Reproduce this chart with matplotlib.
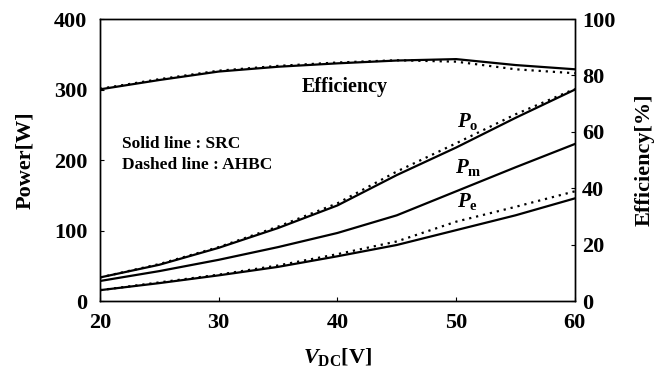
import matplotlib
matplotlib.use('Agg')
import matplotlib.pyplot as plt
import numpy as np

# data
vdc = [20, 25, 30, 35, 40, 45, 50, 55, 60]

po_src = [34, 52, 76, 104, 136, 179, 218, 260, 300]
po_ahbc = [34, 53, 77, 106, 139, 184, 224, 265, 301]
pm_src = [29, 43, 59, 77, 97, 122, 156, 190, 223]
pe_src = [16, 26, 37, 49, 64, 80, 101, 122, 146]
pe_ahbc = [16, 27, 38, 51, 67, 85, 113, 134, 156]

eff_src = [75.1, 78.4, 81.4, 83.1, 84.3, 85.3, 85.8, 83.7, 82.2]
eff_ahbc = [75.3, 78.7, 81.7, 83.4, 84.6, 85.4, 84.9, 82.2, 80.8]

plt.rcParams['font.family'] = ['Liberation Serif', 'DejaVu Serif']
plt.rcParams['font.weight'] = 'bold'
plt.rcParams['mathtext.fontset'] = 'custom'
plt.rcParams['mathtext.it'] = 'Liberation Serif:bold:italic'
plt.rcParams['mathtext.rm'] = 'Liberation Serif:bold'
plt.rcParams['mathtext.bf'] = 'Liberation Serif:bold'

fig = plt.figure(figsize=(6.6, 3.69), dpi=100)
ax = fig.add_axes([0.1515, 0.183, 0.7195, 0.7655])
ax2 = ax.twinx()

lw = 1.6
dot = (0, (1, 2.2))
ax.plot(vdc, po_src, color='black', lw=lw)
ax.plot(vdc, po_ahbc, color='black', lw=lw, ls=dot)
ax.plot(vdc, pm_src, color='black', lw=lw)
ax.plot(vdc, pe_src, color='black', lw=lw)
ax.plot(vdc, pe_ahbc, color='black', lw=lw, ls=dot)

ax2.plot(vdc, eff_src, color='black', lw=lw)
ax2.plot(vdc, eff_ahbc, color='black', lw=lw, ls=dot)

ax.set_xlim(20, 60)
ax.set_ylim(0, 400)
ax2.set_ylim(0, 100)
ax.set_xticks([20, 30, 40, 50, 60])
ax.set_yticks([0, 100, 200, 300, 400])
ax2.set_yticks([0, 20, 40, 60, 80, 100])

ax.tick_params(axis='x', direction='in', length=3, labelsize=16, pad=8)
ax.tick_params(axis='y', direction='in', length=3, labelsize=16, pad=9)
ax2.tick_params(axis='y', direction='in', length=3, labelsize=16, pad=5)
for t in ax.get_xticklabels() + ax.get_yticklabels() + ax2.get_yticklabels():
    t.set_fontweight('bold')

for a in (ax, ax2):
    for s in a.spines.values():
        s.set_linewidth(1.0)
ax.spines['top'].set_linestyle((0, (1, 1)))
ax2.spines['top'].set_linestyle((0, (1, 1)))

ax.set_ylabel('Power[W]', fontsize=16, fontweight='bold', labelpad=14)
ax2.set_ylabel('Efficiency[%]', fontsize=16, fontweight='bold', labelpad=14)
ax.set_xlabel(r'$V_{\mathrm{DC}}$[V]', fontsize=16, fontweight='bold', labelpad=10)

ax.text(40.6, 304, 'Efficiency', fontsize=14.5, fontweight='bold', ha='center', va='center')
ax.text(21.85, 223, 'Solid line : SRC', fontsize=12.5, fontweight='bold', ha='left', va='center')
ax.text(21.85, 193, 'Dashed line : AHBC', fontsize=12.5, fontweight='bold', ha='left', va='center')
ax.text(50.1, 255, r'$P_{\mathrm{o}}$', fontsize=15, ha='left', va='center')
ax.text(49.9, 190, r'$P_{\mathrm{m}}$', fontsize=15, ha='left', va='center')
ax.text(50.1, 141, r'$P_{\mathrm{e}}$', fontsize=15, ha='left', va='center')

fig.savefig('out.png', dpi=100)
